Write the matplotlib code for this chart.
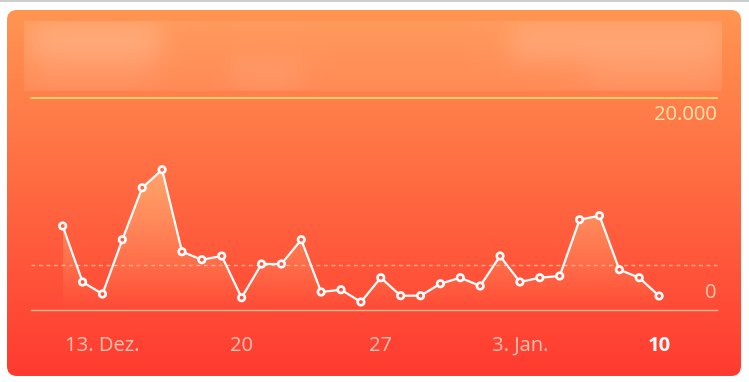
import numpy as np
import matplotlib.pyplot as plt
from matplotlib.patches import FancyBboxPatch, Polygon

### Données (pas par jour, 11. Dez. -> 10. Jan.)
schritte = [7925, 2642, 1509, 6632, 11538, 13236, 5500, 4745, 5094, 1160,
            4340, 4340, 6632, 1698, 1915, 755, 3047, 1349, 1349, 2481,
            3047, 2264, 5094, 2642, 3047, 3208, 8519, 8896, 3802, 3047, 1321]
durchschnitt = 4250
ymax = 20000
tick_pos = [2, 9, 16, 23, 30]
tick_labels = ['13. Dez.', '20', '27', '3. Jan.', '10']

W, H = 749, 382
top_rgb = np.array([255, 150, 82]) / 255
bot_rgb = np.array([255, 58, 48]) / 255
card_top, card_bot = 10, 376


def bg_color(py):
    t = np.clip((py - card_top) / (card_bot - card_top), 0, 1)
    return top_rgb * (1 - t) + bot_rgb * t


fig = plt.figure(figsize=(W / 100, H / 100), dpi=100)
fig.patch.set_facecolor('white')

### fond (carte arrondie en dégradé)
bg = fig.add_axes([0, 0, 1, 1])
bg.set_xlim(0, W)
bg.set_ylim(H, 0)
bg.axis('off')
bg.plot([0, W], [1, 1], color='#c4c4c4', lw=1.2)

card = FancyBboxPatch((7, card_top), 734, card_bot - card_top,
                      boxstyle='round,pad=0,rounding_size=10',
                      facecolor='none', edgecolor='none')
bg.add_patch(card)
rows = np.arange(card_top, card_bot)
grad = np.array([bg_color(r) for r in rows])[:, None, :]
im = bg.imshow(grad, extent=(7, 741, card_bot, card_top), aspect='auto',
               interpolation='bilinear')
im.set_clip_path(card)

# en-tête flouté
hx = np.arange(24, 722)
hy = np.arange(21, 91)
XX, YY = np.meshgrid(hx, hy)


def sig(v):
    return 1 / (1 + np.exp(-v))


def soft_box(x0, x1, y0, y1, s=8):
    return sig((XX - x0) / s) * sig((x1 - XX) / s) * sig((YY - y0) / s) * sig((y1 - YY) / s)


alpha = np.full(XX.shape, 0.07)
alpha += 0.20 * soft_box(30, 160, 24, 58)
alpha += 0.16 * soft_box(510, 722, 24, 60)
alpha += 0.08 * soft_box(35, 150, 62, 86)
alpha += 0.10 * soft_box(232, 300, 60, 88)
alpha += 0.09 * soft_box(585, 720, 62, 88)
head = np.ones(XX.shape + (4,))
head[..., 3] = np.clip(alpha, 0, 1)
bg.imshow(head, extent=(24, 722, 91, 21), aspect='auto', interpolation='bilinear')

### graphique
px0, step = 62.7, 19.88
ax = fig.add_axes([31 / W, (H - 310) / H, (717 - 31) / W, 212 / H])
ax.set_xlim(-(px0 - 31) / step, (717 - px0) / step)
ax.set_ylim(0, ymax)
ax.axis('off')
ax.patch.set_alpha(0)

x = np.arange(len(schritte))
y = np.array(schritte)
x0, x1 = ax.get_xlim()

ax.plot([x0, x1], [ymax, ymax], color='#ffe77a', lw=1.1, clip_on=False)
ax.plot([x0, x1], [0, 0], color='#ffb48e', lw=1.0, clip_on=False)
ax.plot([x0, x1], [durchschnitt, durchschnitt], color='#ffbf9c', lw=0.9,
        ls=(0, (3, 3)), clip_on=False)

# remplissage dégradé sous la courbe
verts = [(x[0], 0)] + list(zip(x, y)) + [(x[-1], 0)]
poly = Polygon(verts, closed=True, facecolor='none', edgecolor='none')
ax.add_patch(poly)
fill = np.zeros((200, 1, 4))
fill[..., 0] = 1.0
fill[..., 1] = 0.72
fill[..., 2] = 0.48
fill[:, 0, 3] = np.linspace(0.75, 0.0, 200)
fim = ax.imshow(fill, extent=(x[0], x[-1], 0, y.max()), aspect='auto',
                origin='upper', interpolation='bilinear')
fim.set_clip_path(poly)
ax.set_xlim(x0, x1)
ax.set_ylim(0, ymax)

ax.plot(x, y, color='white', lw=1.6, clip_on=False, zorder=3)
py = 310 - y / ymax * 212
faces = [bg_color(p) for p in py]
ax.scatter(x, y, s=22, facecolors=faces, edgecolors='white', linewidths=1.9,
           zorder=4, clip_on=False)

font = ['Open Sans', 'DejaVu Sans']
ax.text(x1, 18396, '20.000', ha='right', va='center', fontsize=14.5,
        color='#ffe6b0', family=font)
ax.text(x1, 1604, '0', ha='right', va='center', fontsize=14.5,
        color='#ffc8aa', family=font)

for pos, lab in zip(tick_pos, tick_labels):
    last = pos == tick_pos[-1]
    ax.text(pos, -3396, lab, ha='center', va='center', fontsize=14.5,
            color='white' if last else '#ffc4b4', family=font,
            fontweight='bold' if last else 'normal', clip_on=False)

fig.savefig('out.png', dpi=100, facecolor='white')
